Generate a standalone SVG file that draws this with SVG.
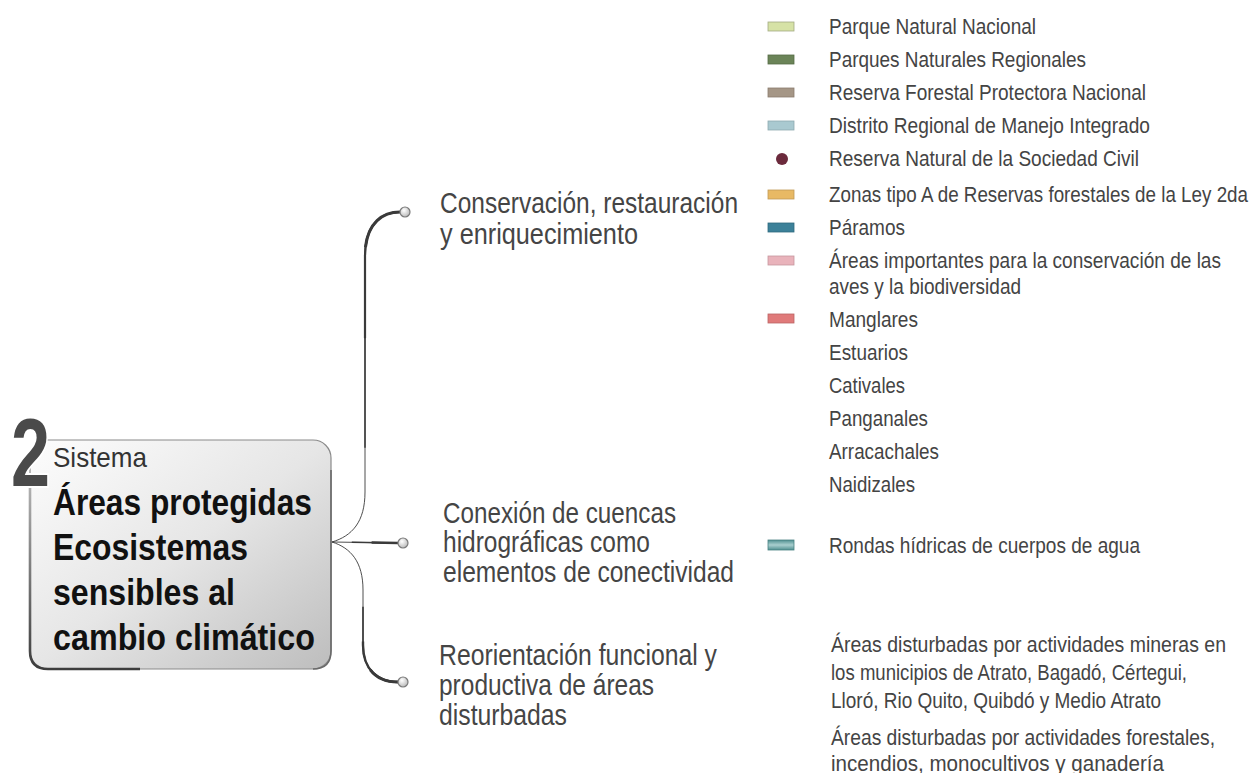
<svg xmlns="http://www.w3.org/2000/svg" width="1260" height="773" viewBox="0 0 1260 773">
<style>
.t{font-family:'Liberation Sans',Arial,sans-serif;}
.leg{font-size:22px;fill:#444;}
.lab{font-size:29px;fill:#454545;}
.big{font-size:36px;font-weight:bold;fill:#111;}
.sw{stroke-width:0.8;}
.br{fill:none;stroke:#3a3a3a;stroke-linecap:butt;}
.dot{fill:url(#dotg);stroke:#7a7a7a;stroke-width:1.2;}
</style>
<defs>
<linearGradient id="boxg" x1="0" y1="0" x2="1" y2="1">
<stop offset="0" stop-color="#fdfdfd"/>
<stop offset="0.5" stop-color="#e6e6e6"/>
<stop offset="1" stop-color="#bdbdbd"/>
</linearGradient>
<linearGradient id="edg" gradientUnits="userSpaceOnUse" x1="0" y1="470" x2="0" y2="670">
<stop offset="0" stop-color="#bbbbbb"/>
<stop offset="1" stop-color="#3c3c3c"/>
</linearGradient>
<radialGradient id="dotg" cx="0.4" cy="0.35" r="0.7">
<stop offset="0" stop-color="#ffffff"/>
<stop offset="1" stop-color="#b5b5b5"/>
</radialGradient>
<linearGradient id="rondg" x1="0" y1="0" x2="0" y2="1">
<stop offset="0" stop-color="#4f8f90"/>
<stop offset="0.5" stop-color="#a9cfcf"/>
<stop offset="1" stop-color="#4f8f90"/>
</linearGradient>
</defs>

<g id="connectors">
<path class="br" pathLength="100" stroke-width="0.9" d="M332,542 C352,536 365,522 365,492 L365,256 C365,226 380,212 400,212"/>
<path class="br" pathLength="100" stroke-width="1.5" stroke-dasharray="0 30 70 300" d="M332,542 C352,536 365,522 365,492 L365,256 C365,226 380,212 400,212"/>
<path class="br" pathLength="100" stroke-width="2.2" stroke-dasharray="0 60 40 300" d="M332,542 C352,536 365,522 365,492 L365,256 C365,226 380,212 400,212"/>
<path class="br" pathLength="100" stroke-width="3" stroke-dasharray="0 85 15 300" d="M332,542 C352,536 365,522 365,492 L365,256 C365,226 380,212 400,212"/>

<path class="br" pathLength="100" stroke-width="0.9" d="M332,542 L398,543"/>
<path class="br" pathLength="100" stroke-width="1.6" stroke-dasharray="0 30 70 300" d="M332,542 L398,543"/>
<path class="br" pathLength="100" stroke-width="2.5" stroke-dasharray="0 60 40 300" d="M332,542 L398,543"/>

<path class="br" pathLength="100" stroke-width="0.9" d="M332,542 C351,548 363,562 363,590 L363,645 C363,670 378,682 398,682"/>
<path class="br" pathLength="100" stroke-width="1.6" stroke-dasharray="0 45 55 300" d="M332,542 C351,548 363,562 363,590 L363,645 C363,670 378,682 398,682"/>
<path class="br" pathLength="100" stroke-width="2.4" stroke-dasharray="0 65 35 300" d="M332,542 C351,548 363,562 363,590 L363,645 C363,670 378,682 398,682"/>
<path class="br" pathLength="100" stroke-width="3" stroke-dasharray="0 82 18 300" d="M332,542 C351,548 363,562 363,590 L363,645 C363,670 378,682 398,682"/>
</g>

<g id="root">
<rect x="30" y="440" width="301" height="229" rx="18" fill="url(#boxg)" stroke="#8a8a8a" stroke-width="1.2"/>
<path d="M30,480 L30,651 Q30,669 48,669 L140,669" fill="none" stroke="url(#edg)" stroke-width="2.6"/>
<path d="M331,470 L331,651 Q331,669 313,669" fill="none" stroke="#6a6a6a" stroke-width="1.6"/>
<text class="t" x="11" y="486" font-size="97" font-weight="bold" fill="#4a4a4a" stroke="#ffffff" stroke-width="4" paint-order="stroke" textLength="39" lengthAdjust="spacingAndGlyphs">2</text>
<text class="t" x="53" y="467" font-size="28" fill="#333" textLength="94" lengthAdjust="spacingAndGlyphs">Sistema</text>
<text class="t big" x="53" y="515" textLength="259" lengthAdjust="spacingAndGlyphs">Áreas protegidas</text>
<text class="t big" x="53" y="560" textLength="195" lengthAdjust="spacingAndGlyphs">Ecosistemas</text>
<text class="t big" x="53" y="605" textLength="182" lengthAdjust="spacingAndGlyphs">sensibles al</text>
<text class="t big" x="53" y="650" textLength="262" lengthAdjust="spacingAndGlyphs">cambio climático</text>
</g>

<g id="n1">
<circle class="dot" cx="405" cy="212" r="5"/>
<text class="t lab" x="440" y="213" textLength="298" lengthAdjust="spacingAndGlyphs">Conservación, restauración</text>
<text class="t lab" x="440" y="244" textLength="198" lengthAdjust="spacingAndGlyphs">y enriquecimiento</text>
</g>
<g id="n2">
<circle class="dot" cx="403" cy="543" r="5"/>
<text class="t lab" x="443" y="523" textLength="233" lengthAdjust="spacingAndGlyphs">Conexión de cuencas</text>
<text class="t lab" x="443" y="552" textLength="207" lengthAdjust="spacingAndGlyphs">hidrográficas como</text>
<text class="t lab" x="443" y="582" textLength="291" lengthAdjust="spacingAndGlyphs">elementos de conectividad</text>
</g>
<g id="n3">
<circle class="dot" cx="403" cy="682" r="5"/>
<text class="t lab" x="439" y="665" textLength="278" lengthAdjust="spacingAndGlyphs">Reorientación funcional y</text>
<text class="t lab" x="439" y="695" textLength="215" lengthAdjust="spacingAndGlyphs">productiva de áreas</text>
<text class="t lab" x="439" y="725" textLength="128" lengthAdjust="spacingAndGlyphs">disturbadas</text>
</g>

<g id="legend">
<rect class="sw" x="768" y="22" width="26" height="9" fill="#d6e2a6" stroke="#a3ab83"/>
<text class="t leg" x="829" y="34" textLength="207" lengthAdjust="spacingAndGlyphs">Parque Natural Nacional</text>
<rect class="sw" x="768" y="55" width="26" height="9" fill="#6b8458" stroke="#566b47"/>
<text class="t leg" x="829" y="67" textLength="257" lengthAdjust="spacingAndGlyphs">Parques Naturales Regionales</text>
<rect class="sw" x="768" y="88" width="26" height="9" fill="#a59686" stroke="#8a7c6e"/>
<text class="t leg" x="829" y="100" textLength="317" lengthAdjust="spacingAndGlyphs">Reserva Forestal Protectora Nacional</text>
<rect class="sw" x="768" y="121" width="26" height="9" fill="#a9c9d0" stroke="#8eaab0"/>
<text class="t leg" x="829" y="133" textLength="321" lengthAdjust="spacingAndGlyphs">Distrito Regional de Manejo Integrado</text>
<circle cx="782" cy="159" r="6" fill="#6b2a3c"/>
<text class="t leg" x="829" y="166" textLength="310" lengthAdjust="spacingAndGlyphs">Reserva Natural de la Sociedad Civil</text>
<rect class="sw" x="768" y="190" width="26" height="9" fill="#e8b964" stroke="#c19a55"/>
<text class="t leg" x="829" y="202" textLength="419" lengthAdjust="spacingAndGlyphs">Zonas tipo A de Reservas forestales de la Ley 2da</text>
<rect class="sw" x="768" y="223" width="26" height="9" fill="#3c8199" stroke="#2f6a7e"/>
<text class="t leg" x="829" y="235" textLength="76" lengthAdjust="spacingAndGlyphs">Páramos</text>
<rect class="sw" x="768" y="256" width="26" height="9" fill="#e9b3bb" stroke="#c6979e"/>
<text class="t leg" x="829" y="268" textLength="392" lengthAdjust="spacingAndGlyphs">Áreas importantes para la conservación de las</text>
<text class="t leg" x="829" y="294" textLength="192" lengthAdjust="spacingAndGlyphs">aves y la biodiversidad</text>
<rect class="sw" x="768" y="314" width="26" height="9" fill="#e07a7a" stroke="#bb6464"/>
<text class="t leg" x="829" y="327" textLength="89" lengthAdjust="spacingAndGlyphs">Manglares</text>
<text class="t leg" x="829" y="360" textLength="79" lengthAdjust="spacingAndGlyphs">Estuarios</text>
<text class="t leg" x="829" y="393" textLength="76" lengthAdjust="spacingAndGlyphs">Cativales</text>
<text class="t leg" x="829" y="426" textLength="99" lengthAdjust="spacingAndGlyphs">Panganales</text>
<text class="t leg" x="829" y="459" textLength="110" lengthAdjust="spacingAndGlyphs">Arracachales</text>
<text class="t leg" x="829" y="492" textLength="86" lengthAdjust="spacingAndGlyphs">Naidizales</text>
<rect class="sw" x="768" y="540" width="26" height="10" fill="url(#rondg)" stroke="#4a8283"/>
<text class="t leg" x="829" y="553" textLength="311" lengthAdjust="spacingAndGlyphs">Rondas hídricas de cuerpos de agua</text>
<text class="t leg" x="831" y="652" textLength="395" lengthAdjust="spacingAndGlyphs">Áreas disturbadas por actividades mineras en</text>
<text class="t leg" x="831" y="680" textLength="356" lengthAdjust="spacingAndGlyphs">los municipios de Atrato, Bagadó, Cértegui,</text>
<text class="t leg" x="831" y="708" textLength="330" lengthAdjust="spacingAndGlyphs">Lloró, Rio Quito, Quibdó y Medio Atrato</text>
<text class="t leg" x="831" y="745" textLength="384" lengthAdjust="spacingAndGlyphs">Áreas disturbadas por actividades forestales,</text>
<text class="t leg" x="831" y="771" textLength="333" lengthAdjust="spacingAndGlyphs">incendios, monocultivos y ganadería</text>
</g>
</svg>
